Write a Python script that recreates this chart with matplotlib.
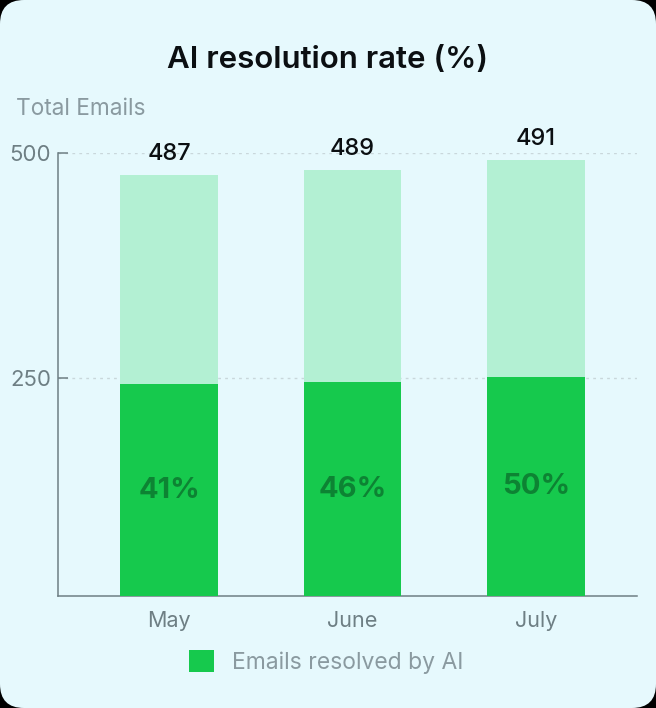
import matplotlib.pyplot as plt
from matplotlib.patches import FancyBboxPatch, Patch

# Data
months = ["May", "June", "July"]
total_bar = [475, 481, 492]        # drawn height of the light bars
total_label = ["487", "489", "491"]  # numbers printed above the bars
resolved_bar = [243, 245, 251]     # drawn height of the dark bars
resolved_pct = ["41%", "46%", "50%"]
y_ticks = [250, 500]

bg = "#e6f9fd"
light_green = "#b3f0d3"
dark_green = "#16c94d"
pct_color = "#0d8333"
gray = "#6e7f84"
light_gray = "#8a9aa0"

plt.rcParams['font.family'] = ['Inter', 'DejaVu Sans']

W, H = 656, 708
fig = plt.figure(figsize=(W / 100, H / 100), dpi=100, facecolor="black")

# rounded card behind everything
bgax = fig.add_axes([0, 0, 1, 1], zorder=-1)
bgax.set_xlim(0, W)
bgax.set_ylim(0, H)
bgax.axis("off")
bgax.add_patch(FancyBboxPatch((0, 0), W, H, boxstyle="round,pad=0,rounding_size=24",
                              facecolor=bg, edgecolor="none"))

ax = fig.add_axes([58 / W, 1 - 596 / H, (637 - 58) / W, (596 - 152.7) / H])
ax.set_facecolor("none")

x = list(range(len(months)))
ax.bar(x, total_bar, width=0.53, color=light_green, zorder=2)
ax.bar(x, resolved_bar, width=0.53, color=dark_green, zorder=3)

ybot = 7.5
ax.set_ylim(ybot, 500)
ax.set_xlim(-0.605, 2.55)

for i in x:
    ax.annotate(total_label[i], (i, total_bar[i]), xytext=(0, 15), textcoords="offset points",
                ha="center", va="center", fontsize=17, color="#0b0f12",
                fontweight="medium", annotation_clip=False)
    ax.text(i, (ybot + resolved_bar[i]) / 2, resolved_pct[i], ha="center", va="center",
            fontsize=21, fontweight="bold", color=pct_color, zorder=4)

ax.set_yticks(y_ticks)
ax.set_xticks(x)
ax.set_xticklabels(months)
ax.grid(axis="y", linestyle=(0, (2, 3)), color="#c9d7db", linewidth=1, zorder=1)
ax.tick_params(axis="y", direction="in", length=7, width=1.1, color=gray,
               labelsize=16, labelcolor=gray, pad=5)
ax.tick_params(axis="x", direction="in", length=6, width=1.1, color=gray,
               labelsize=15.5, labelcolor=gray, pad=11)
for s in ["top", "right"]:
    ax.spines[s].set_visible(False)
for s in ["left", "bottom"]:
    ax.spines[s].set_color(gray)
    ax.spines[s].set_linewidth(1.1)

fig.text(328 / W, 1 - 60 / H, "AI resolution rate (%)", ha="center", va="center",
         fontsize=22.5, fontweight="semibold", color="#0b0f12")
fig.text(16 / W, 1 - 109 / H, "Total Emails", ha="left", va="center",
         fontsize=16.3, color=light_gray)

fig.legend(handles=[Patch(facecolor=dark_green, edgecolor="none")],
           labels=["Emails resolved by AI"], loc="center",
           bbox_to_anchor=(326 / W, 1 - 662 / H), frameon=False,
           fontsize=16.5, labelcolor=light_gray, handlelength=1.1, handleheight=1.1,
           handletextpad=0.8)

fig.savefig("out.png", dpi=100, facecolor=fig.get_facecolor())
